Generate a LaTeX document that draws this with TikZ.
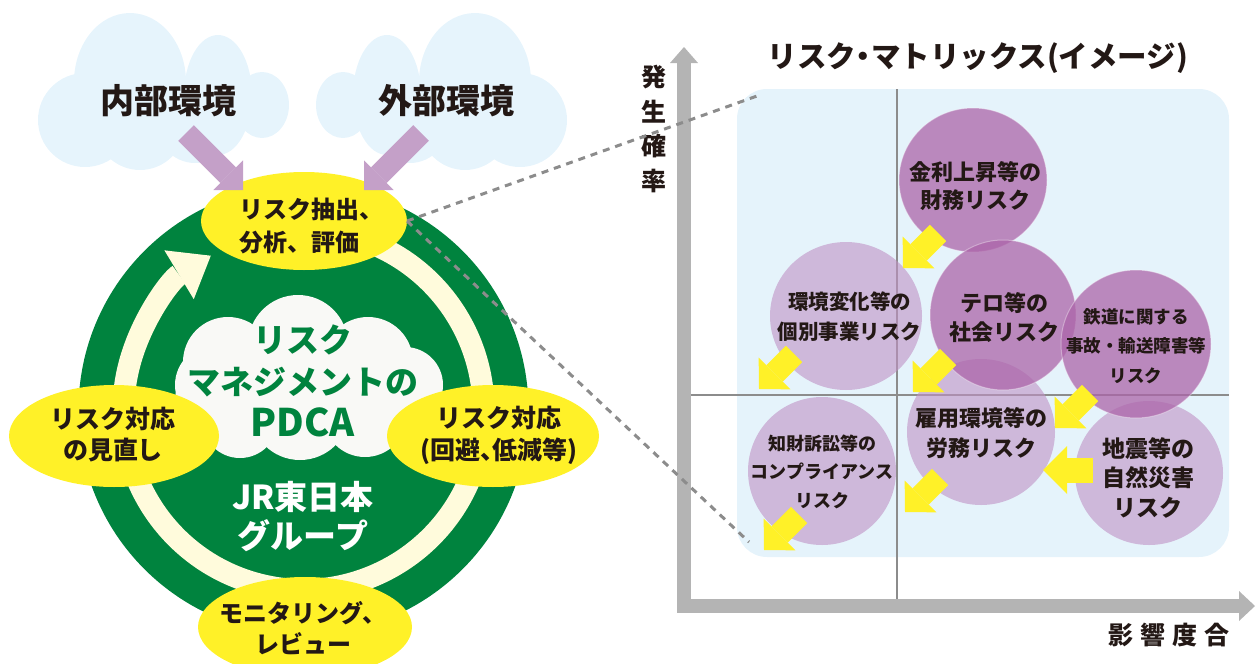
\documentclass[tikz,border=0pt]{standalone}
\usepackage{fontspec}
\setmainfont{Noto Sans CJK JP}
\usetikzlibrary{shapes.geometric,arrows.meta}
\definecolor{gr}{RGB}{0,131,62}
\definecolor{cream}{RGB}{255,251,220}
\definecolor{yel}{RGB}{255,241,40}
\definecolor{ink}{RGB}{35,24,21}
\definecolor{cloudblue}{RGB}{230,244,252}
\definecolor{boxblue}{RGB}{229,243,251}
\definecolor{offwhite}{RGB}{249,249,246}
\definecolor{purarrow}{RGB}{196,160,200}
\definecolor{lightpur}{RGB}{192,145,196}
\definecolor{darkpur}{RGB}{172,101,169}
\definecolor{axisgray}{RGB}{180,180,180}
\definecolor{linegray}{RGB}{140,140,140}
\newcommand{\setfs}[2]{\fontsize{#1}{#2}\selectfont}
\newcommand{\narrow}[1]{{\addfontfeature{RawFeature=+palt}#1}}
\begin{document}
\begin{tikzpicture}[x=1pt,y=-1pt,
  every node/.style={inner sep=0pt,outer sep=0pt},
  jtxt/.style={text=ink,align=center},
  puff/.style={fill=cloudblue},
  ipuff/.style={fill=offwhite},
  yell/.style={ellipse,fill=yel,inner sep=0pt},
  parrow/.style={draw=purarrow,line width=22pt,-{Triangle[width=42pt,length=21pt,line width=0pt]}},
  yarrow/.style={draw=yel,line width=23pt,-{Triangle[width=45pt,length=22pt,line width=0pt]}},
  lcirc/.style={ellipse,fill=lightpur,fill opacity=0.6,inner sep=0pt},
  dcirc/.style={ellipse,fill=darkpur,fill opacity=0.75,draw=white,draw opacity=0.35,line width=1pt,inner sep=0pt},
  mtxt/.style={text=ink,align=center},
  dashlink/.style={draw=linegray,line width=3pt,dash pattern=on 7pt off 6pt},
  quad/.style={draw=linegray,line width=1.5pt},
  axisline/.style={draw=axisgray,line width=14pt,line join=miter,
     {Triangle[width=28pt,length=16pt,line width=0pt]}-{Triangle[width=30pt,length=16pt,line width=0pt]}}
]
\useasboundingbox (0,0) rectangle (1259,664);

% ---------- clouds ----------
\foreach \m in {0,1}{
  \begin{scope}[xshift=\m*605pt, xscale={1-2*\m}]
    \fill[puff] (85,120) ellipse[x radius=47,y radius=47];
    \fill[puff] (130,82) ellipse[x radius=56,y radius=69];
    \fill[puff] (218,95) ellipse[x radius=34,y radius=60];
    \fill[puff] (262,105) ellipse[x radius=27,y radius=33];
    \fill[puff] (140,125) ellipse[x radius=45,y radius=45];
    \fill[puff] (195,120) ellipse[x radius=40,y radius=43];
  \end{scope}
}
\node[jtxt,font=\bfseries\setfs{34}{40}] (naibu) at (168,101) {内部環境};
\node[jtxt,font=\bfseries\setfs{34}{40}] (gaibu) at (446,101) {外部環境};

% ---------- green circle ----------
\coordinate (gc) at (303.5,410);
\fill[gr] (gc) circle[radius=225];
\draw[cream,line width=22pt,-{Triangle[width=57pt,length=37pt,line width=0pt]}]
  (gc) ++(-75:180) arc[start angle=-75,end angle=239,radius=180];

% inner cloud
\fill[ipuff] (298,345) circle[radius=50];
\fill[ipuff] (368,362) circle[radius=45];
\fill[ipuff] (405,385) circle[radius=38];
\fill[ipuff] (228,362) circle[radius=45];
\fill[ipuff] (215,385) circle[radius=40];
\fill[ipuff] (300,410) circle[radius=50];
\fill[ipuff] (240,420) circle[radius=38];
\fill[ipuff] (365,415) circle[radius=42];
\fill[ipuff] (405,405) circle[radius=32];
\fill[ipuff] (205,400) circle[radius=30];
\node[text=gr,align=center,font=\bfseries\setfs{33}{42}] (pdca) at (302.5,381)
  {リスク\\マネジメントの\\{\setfs{38}{42}PDCA}};
\node[text=white,align=center,font=\bfseries\setfs{33}{39}] (jr) at (303,517) {JR東日本\\グループ};

% ---------- yellow ellipses ----------
\node[yell,minimum width=206pt,minimum height=98pt] (top) at (304,221) {};
\node[yell,minimum width=210pt,minimum height=102pt] (left) at (114,436) {};
\node[yell,minimum width=212pt,minimum height=102pt] (right) at (493,436) {};
\node[yell,minimum width=214pt,minimum height=100pt] (bottom) at (305,627) {};
\node[jtxt,align=left,font=\bfseries\setfs{24}{33}] (ttop) at (311,226) {リスク抽出、\\分析、評価};
\node[jtxt,font=\bfseries\setfs{25}{31}] (tleft) at (113,435) {リスク対応\\の見直し};
\node[jtxt,font=\bfseries\setfs{25}{32}] (tright) at (499,435) {リスク対応\\(回避\narrow{、}低減等)};
\node[jtxt,font=\bfseries\setfs{24}{31}] (tbottom) at (303,628) {モニタリング、\\レビュー};

% purple arrows from clouds
\coordinate (pa1s) at (186,133); \coordinate (pa1e) at (243,190);
\coordinate (pa2s) at (421,133); \coordinate (pa2e) at (364,190);
\draw[parrow] (pa1s) -- (pa1e);
\draw[parrow] (pa2s) -- (pa2e);

% ---------- matrix ----------
\fill[boxblue,rounded corners=30pt] (737,89) rectangle (1229,557);
\coordinate (ytop) at (684,47);
\coordinate (orig) at (684,606);
\coordinate (xend) at (1255,606);
\draw[quad] (897,89) -- (897,599);
\draw[quad] (691,395) -- (1229,395);
\draw[axisline] (ytop) -- (orig) -- (xend);

% light circles
\node[lcirc,minimum width=152pt,minimum height=148pt] (cB) at (846,316) {};
\node[lcirc,minimum width=148pt,minimum height=148pt] (cF) at (822,471) {};
\node[lcirc,minimum width=148pt,minimum height=146pt] (cE) at (981,432) {};
\node[lcirc,minimum width=148pt,minimum height=144pt] (cG) at (1149,473) {};
% dark circles
\node[dcirc,minimum width=148pt,minimum height=144pt] (cA) at (973,180) {};
\node[dcirc,minimum width=146pt,minimum height=150pt] (cC) at (1003,315) {};
\node[dcirc,minimum width=150pt,minimum height=148pt] (cD) at (1136,344) {};

\node[mtxt,font=\bfseries\setfs{22}{28}] (tA) at (975,186) {金利上昇等の\\財務リスク};
\node[mtxt,font=\bfseries\setfs{20.5}{30}] (tB) at (849.5,317) {環境変化等の\\個別事業リスク};
\node[mtxt,font=\bfseries\setfs{22}{29}] (tC) at (1004.5,317.5) {テロ等の\\社会リスク};
\node[mtxt,font=\bfseries\setfs{17.5}{29.5}] (tD) at (1136,346) {鉄道に関する\\事故・輸送障害等\\リスク};
\node[mtxt,font=\bfseries\setfs{22}{30}] (tE) at (981,433) {雇用環境等の\\労務リスク};
\node[mtxt,font=\bfseries\setfs{18}{28.5}] (tF) at (822,471.5) {知財訴訟等の\\コンプライアンス\\リスク};
\node[mtxt,font=\bfseries\setfs{23}{29.5}] (tG) at (1148,477.5) {地震等の\\自然災害\\リスク};

% yellow arrows
\coordinate (y1s) at (938,233);  \coordinate (y1e) at (903,268);
\coordinate (y2s) at (794,354);  \coordinate (y2e) at (759,389);
\coordinate (y3s) at (948,357);  \coordinate (y3e) at (913,392);
\coordinate (y4s) at (1090,393); \coordinate (y4e) at (1055,428);
\coordinate (y5s) at (940,477);  \coordinate (y5e) at (905,512);
\coordinate (y6s) at (799,515);  \coordinate (y6e) at (764,550);
\coordinate (y7s) at (1093,470); \coordinate (y7e) at (1043,470);
\foreach \i in {1,...,6}{ \draw[yarrow] (y\i s) -- (y\i e); }
\draw[draw=yel,line width=25pt,-{Triangle[width=48pt,length=24pt,line width=0pt]}] (y7s) -- (y7e);

% labels
\node[jtxt,font=\bfseries\setfs{29.5}{34}] (title) at (978,58) {リスク\narrow{・}マトリックス(イメージ)};
\node[jtxt,font=\bfseries\setfs{25}{34.5}] (ylab) at (654,129) {発\\生\\確\\率};
\node[jtxt,font=\bfseries\setfs{25}{30}] (xlab) at (1169,635) {影\hspace{7pt}響\hspace{7pt}度\hspace{7pt}合};

% dashed connectors
\coordinate (mtl) at (757,96);
\coordinate (mbl) at (749,542);
\draw[dashlink] (top.east) -- (mtl);
\draw[dashlink] (top.east) -- (mbl);
\end{tikzpicture}
\end{document}
